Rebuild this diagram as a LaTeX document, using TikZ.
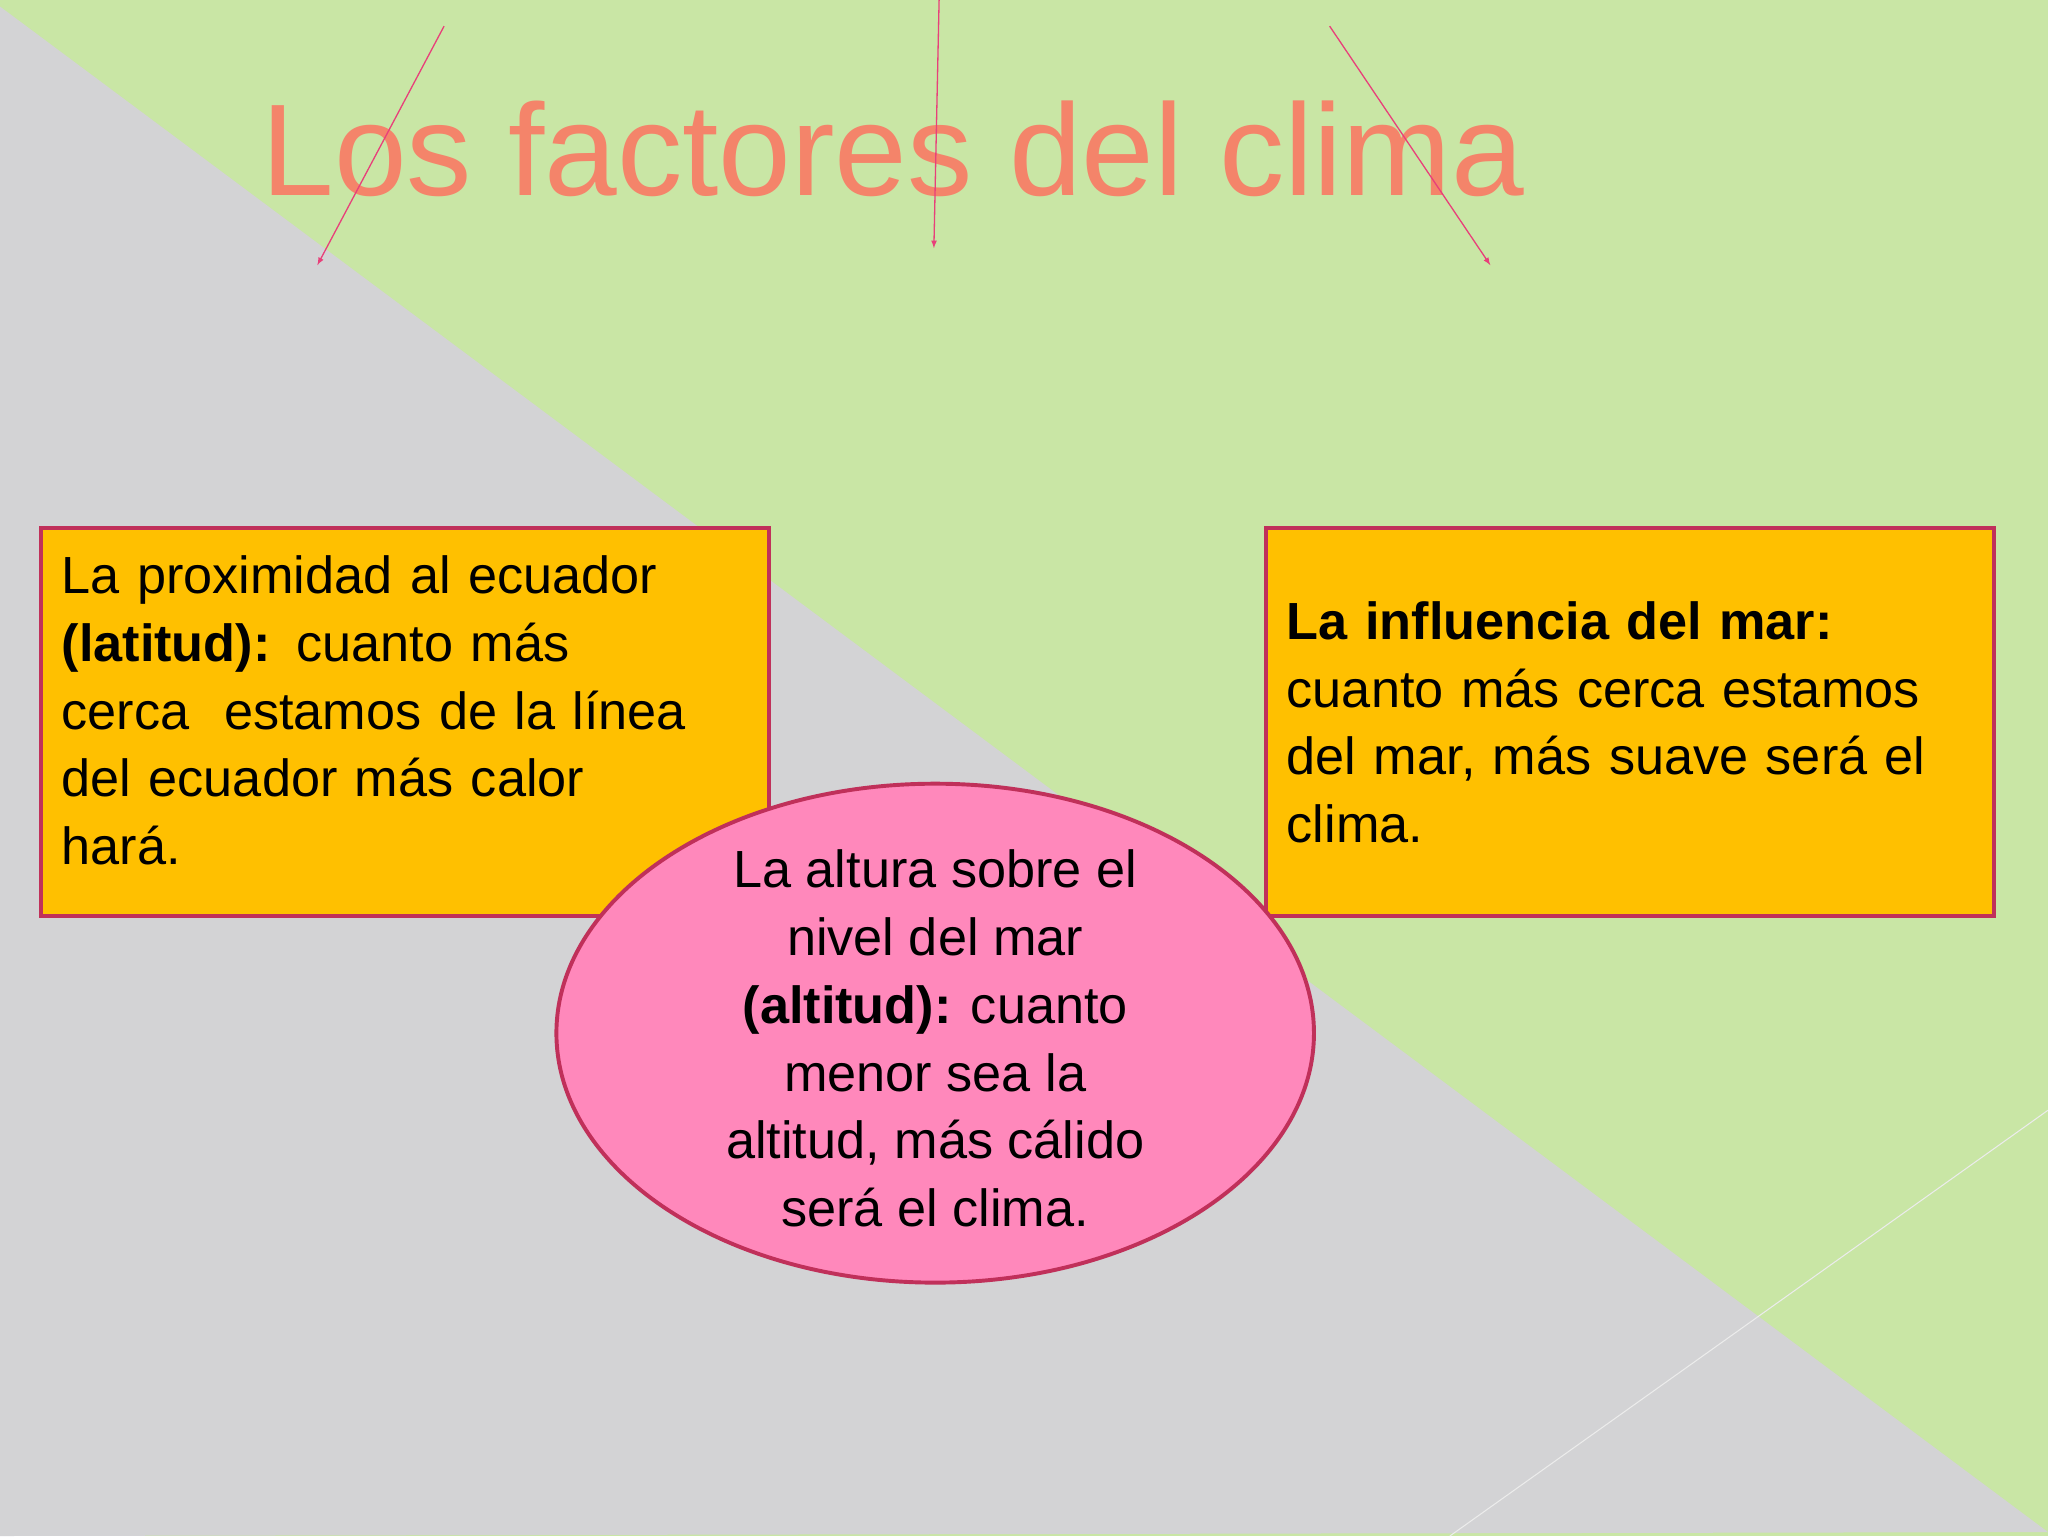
\documentclass[tikz,border=0pt]{standalone}
\usepackage{fontspec}
\setmainfont{Liberation Sans}
\usetikzlibrary{shapes.geometric}
\definecolor{bggreen}{HTML}{C9E6A5}
\definecolor{bggray}{HTML}{D3D3D5}
\definecolor{boxfill}{HTML}{FFC000}
\definecolor{boxline}{HTML}{C0305A}
\definecolor{ellfill}{HTML}{FF88BB}
\definecolor{arr}{HTML}{E8407A}
\definecolor{titlec}{HTML}{F4846A}
\begin{document}
\begin{tikzpicture}[x=1pt,y=-1pt,
  txt/.style={font=\fontsize{40}{52}\selectfont,text=black},
  factorbox/.style={draw=boxline,line width=3pt,fill=boxfill,minimum width=557pt,minimum height=297pt,anchor=north west,inner sep=0pt},
  arrowline/.style={draw=arr,line width=1pt,-latex}]
\useasboundingbox (0,0) rectangle (1568,1176);
\fill[bggreen] (0,0) rectangle (1568,1176);
\fill[bggray] (0,5) -- (1568,1173) -- (0,1176) -- cycle;
\draw[white!85!gray,line width=0.8pt] (1110,1176) -- (1568,850);
\node[font=\fontsize{100}{110}\selectfont,text=titlec,anchor=base west,inner sep=0pt] (title) at (200,150) {Los factores del clima};
\coordinate (a1s) at (340,20); \coordinate (a1e) at (243,203);
\coordinate (a2s) at (719,0); \coordinate (a2e) at (715,190);
\coordinate (a3s) at (1018,20); \coordinate (a3e) at (1141,203);
\draw[arrowline] (a1s) -- (a1e);
\draw[arrowline] (a2s) -- (a2e);
\draw[arrowline] (a3s) -- (a3e);
\node[factorbox] (left) at (30,403) {};
\node[txt,anchor=north west,text width=540pt,align=left,inner sep=0pt] (lefttxt) at (47,425) {La proximidad al ecuador\\\textbf{(latitud):} cuanto más\\cerca\ \ estamos de la línea\\del ecuador más calor\\hará.};
\node[factorbox] (right) at (968,403) {};
\node[txt,anchor=west,text width=550pt,align=left,inner sep=0pt] (righttxt) at (985,553) {\textbf{La influencia del mar:}\\cuanto más cerca estamos\\del mar, más suave será el\\clima.};
\node[ellipse,draw=boxline,line width=3pt,fill=ellfill,minimum width=580pt,minimum height=382pt,inner sep=0pt] (ell) at (716,791) {};
\node[txt,align=center,inner sep=0pt] (elltxt) at (716,795) {La altura sobre el\\nivel del mar\\\textbf{(altitud):} cuanto\\menor sea la\\altitud, más cálido\\será el clima.};
\end{tikzpicture}
\end{document}
